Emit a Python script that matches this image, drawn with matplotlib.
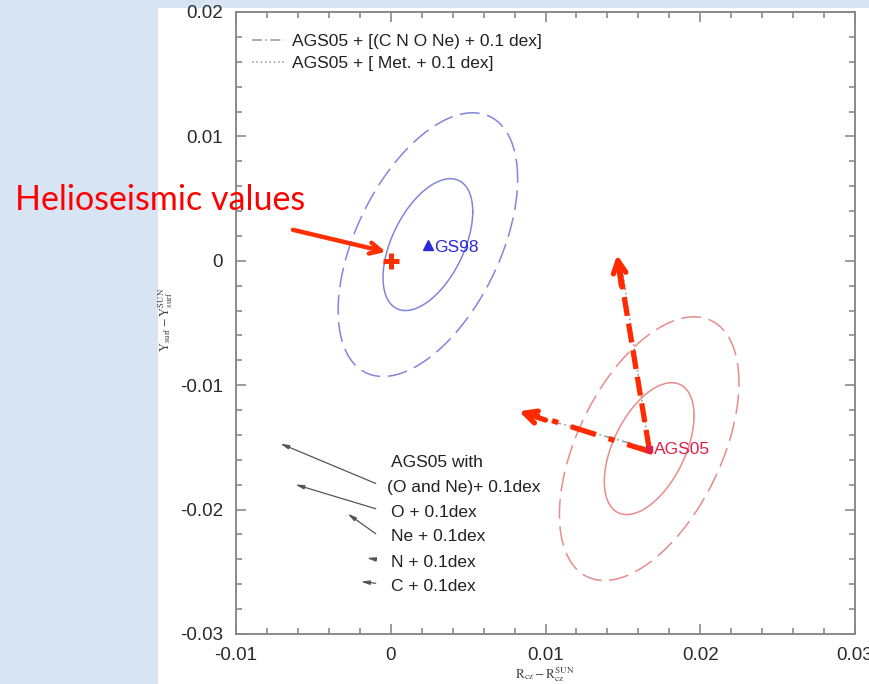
import numpy as np
import matplotlib
matplotlib.use("Agg")
import matplotlib.pyplot as plt
from matplotlib.patches import Rectangle
from matplotlib.ticker import MultipleLocator

plt.rcParams['font.family'] = ['Liberation Sans', 'DejaVu Sans']
plt.rcParams['mathtext.fontset'] = 'stix'

# ---- data ----
# model positions (Rcz - Rcz_sun, Ysurf - Ysurf_sun)
models = ['GS98', 'AGS05']
model_x = [0.0024, 0.0167]
model_y = [0.0013, -0.0151]
model_colors = ['#2a2ad8', '#e0204a']
ellipse_colors = ['#8484dc', '#e88c8c']

# uncertainty ellipse parameters (1 sigma), shared by both models
sigma_r = 0.00290
sigma_y = 0.00530
rho = 0.50
sigma_levels = [1, 2]

# helioseismic reference point
helio_x, helio_y = 0.0, 0.0

# shifts of AGS05 for increased abundances
cnone_end = (0.0090, -0.0124)   # (C N O Ne) + 0.1 dex
met_end = (0.0150, -0.0010)     # Met. + 0.1 dex

# individual element vectors (start -> head)
vec_x0 = [-0.00097, -0.00097, -0.00097, -0.00097, -0.00097]
vec_y0 = [-0.01790, -0.01993, -0.02194, -0.02400, -0.02592]
vec_x1 = [-0.00714, -0.00617, -0.00279, -0.00155, -0.00194]
vec_y1 = [-0.01469, -0.01798, -0.02033, -0.02389, -0.02579]
vec_labels = ['AGS05 with', '(O and Ne)+ 0.1dex', 'O + 0.1dex',
              'Ne + 0.1dex', 'N + 0.1dex', 'C + 0.1dex']
vec_label_y = [-0.01621, -0.01822, -0.02022, -0.02215, -0.02424, -0.02616]

xticks = [-0.01, 0, 0.01, 0.02, 0.03]
yticks = [-0.03, -0.02, -0.01, 0, 0.01, 0.02]

# ---- figure ----
W, H = 870, 684
fig = plt.figure(figsize=(W / 100, H / 100), dpi=100, facecolor='#d7e4f4')
fig.patches.append(Rectangle((158 / W, 0), 1 - 158 / W, 1 - 8 / H,
                             transform=fig.transFigure, facecolor='white',
                             edgecolor='none', zorder=-10))

ax = fig.add_axes([236 / W, 1 - 634 / H, 619 / W, 622 / H])
ax.set_facecolor('none')
ax.set_xlim(-0.01, 0.03)
ax.set_ylim(-0.03, 0.02)

for s in ax.spines.values():
    s.set_color('#8a8a8a')
    s.set_linewidth(1.4)
ax.xaxis.set_major_locator(MultipleLocator(0.01))
ax.xaxis.set_minor_locator(MultipleLocator(0.002))
ax.yaxis.set_major_locator(MultipleLocator(0.01))
ax.yaxis.set_minor_locator(MultipleLocator(0.002))
ax.tick_params(which='both', direction='in', top=True, right=True,
               color='#8a8a8a', width=1.2)
ax.tick_params(which='major', length=7, labelsize=13.5, labelcolor='#2a2a2a', pad=9.5)
ax.tick_params(which='minor', length=4)
ax.set_xticks(xticks)
ax.set_xticklabels(['-0.01', '0', '0.01', '0.02', '0.03'])
ax.set_yticks(yticks)
ax.set_yticklabels(['-0.03', '-0.02', '-0.01', '0', '0.01', '0.02'])

# uncertainty ellipses
t = np.linspace(0, 2 * np.pi, 400)
for cx, cy, ec in zip(model_x, model_y, ellipse_colors):
    for k in sigma_levels:
        ex = cx + k * sigma_r * np.cos(t)
        ey = cy + k * sigma_y * (rho * np.cos(t) + np.sqrt(1 - rho ** 2) * np.sin(t))
        if k == 1:
            ax.plot(ex, ey, color=ec, lw=1.1, zorder=2)
        else:
            ax.plot(ex, ey, color=ec, lw=1.1, dashes=(13, 5), zorder=2)

# models
ax.plot(model_x[0], model_y[0], marker='^', ms=7, color=model_colors[0], zorder=5)
ax.text(model_x[0] + 0.0004, model_y[0] - 0.0002, models[0], color=model_colors[0],
        fontsize=12.5, va='center', ha='left', zorder=5)
ax.plot(model_x[1], model_y[1], marker='s', ms=4.5, color=model_colors[1], zorder=5)
ax.text(model_x[1] + 0.0003, model_y[1] - 0.0001, models[1], color=model_colors[1],
        fontsize=12.5, va='center', ha='left', zorder=5)

# abundance shift lines
l1, = ax.plot([model_x[1], cnone_end[0]], [model_y[1], cnone_end[1]],
              color='#a0a0a0', lw=1.2, dashes=(6, 2, 1, 2), zorder=3)
l2, = ax.plot([model_x[1], met_end[0]], [model_y[1], met_end[1]],
              color='#a0a0a0', lw=1.2, dashes=(1, 1.6), zorder=3)
ax.legend([l1, l2], ['AGS05 + [(C N O Ne) + 0.1 dex]', 'AGS05 + [ Met. + 0.1 dex]'],
          loc='upper left', bbox_to_anchor=(0.0, 0.99), frameon=False,
          fontsize=12.5, handlelength=1.85, handletextpad=0.45, labelspacing=0.4,
          labelcolor='#222222')

# highlighted shift arrows (thick red dashed)
red = '#ff2a00'
ax.plot([model_x[1], 0.01470], [model_y[1], 0.0000], color=red, lw=3.8,
        dashes=(3.6, 1.5), zorder=4, solid_capstyle='butt')
ax.annotate('', xy=(0.01463, 0.00048), xytext=(0.01490, -0.0020),
            arrowprops=dict(arrowstyle='->,head_length=0.9,head_width=0.45',
                            color=red, lw=3.8, shrinkA=0, shrinkB=0), zorder=4)
ax.plot([model_x[1] + 0.0002, 0.0089], [model_y[1] - 0.0003, -0.01225], color=red, lw=3.8,
        dashes=(5, 2.5, 1.2, 2.5), zorder=4)
ax.annotate('', xy=(0.00828, -0.0121), xytext=(0.0100, -0.0128),
            arrowprops=dict(arrowstyle='->,head_length=0.9,head_width=0.45',
                            color=red, lw=3.8, shrinkA=0, shrinkB=0), zorder=4)

# element vectors
for x0, y0, x1, y1 in zip(vec_x0, vec_y0, vec_x1, vec_y1):
    ax.annotate('', xy=(x1, y1), xytext=(x0, y0),
                arrowprops=dict(arrowstyle='-|>,head_length=0.5,head_width=0.12',
                                color='#555555', lw=0.9, shrinkA=0, shrinkB=0))
for lab, ly in zip(vec_labels, vec_label_y):
    xoff = -0.00025 if lab.startswith('(') else 0.0
    ax.text(xoff, ly, lab, fontsize=12.5, color='#222222', va='center', ha='left')

# helioseismic reference
ax.plot(helio_x, helio_y, marker='+', ms=12, mew=3.6, color='#ff3000', zorder=6)
fig.text(15 / W, 1 - 200 / H, 'Helioseismic values', color='#ff0000',
         fontsize=24.5, va='center', ha='left', family=['Lato', 'DejaVu Sans'])
ax.annotate('', xy=(-0.00032, 0.00072), xytext=(-0.00632, 0.00249),
            arrowprops=dict(arrowstyle='->,head_length=0.8,head_width=0.4',
                            color='#ff3000', lw=3.2, shrinkA=0, shrinkB=0),
            annotation_clip=False, zorder=6)

# axis titles
fig.text(545 / W, 1 - 675 / H, r'$\mathrm{R_{cz}-R_{cz}^{SUN}}$', fontsize=9.5,
         ha='center', va='center', color='#444444')
fig.text(166 / W, 1 - 320 / H, r'$\mathrm{Y_{surf}-Y_{surf}^{SUN}}$', fontsize=9,
         ha='center', va='center', rotation=90, color='#444444')

fig.savefig('out.png', dpi=100, facecolor=fig.get_facecolor())
